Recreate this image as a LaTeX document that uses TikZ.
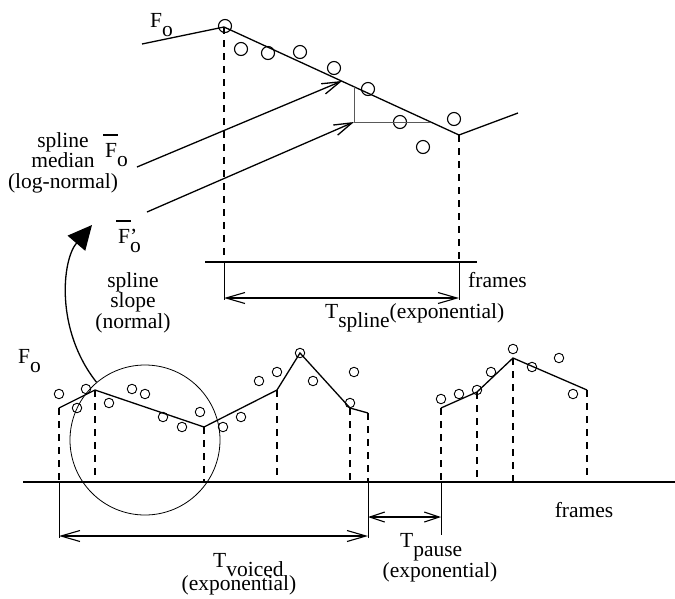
\documentclass[tikz,border=0pt]{standalone}
\usepackage{fontspec}
\setmainfont{Liberation Serif}
\usetikzlibrary{arrows.meta}
\newcommand{\lbl}{\fontsize{21.5}{20.5}\selectfont}
\newcommand{\sbs}[1]{\raisebox{-0.42em}{#1}}
\newcommand{\Fbar}{\makebox[0pt][l]{\hspace{-0.09em}\raisebox{0.98em}{\rule{0.7em}{0.07em}}}F}
\begin{document}
\begin{tikzpicture}[x=1pt,y=-1pt,
  txt/.style={font=\lbl, inner sep=0pt},
  curve/.style={line width=1.3pt},
  dsh/.style={line width=1.3pt, dash pattern=on 7pt off 6pt},
  thinl/.style={line width=0.8pt},
  bigpt/.style={circle, draw, line width=1.1pt, minimum size=13pt, inner sep=0pt},
  smallpt/.style={circle, draw, line width=0.9pt, minimum size=9.5pt, inner sep=0pt},
  barb/.style={-{Straight Barb[length=18pt,width=11pt]}, line width=1.3pt},
  dbl/.style={{Straight Barb[length=19pt,width=11pt]}-{Straight Barb[length=19pt,width=11pt]}, line width=1.1pt},
  dbls/.style={{Straight Barb[length=15pt,width=10pt]}-{Straight Barb[length=15pt,width=10pt]}, line width=1.1pt},
]
\useasboundingbox (0,0) rectangle (675,598);

% ---------- top plot ----------
\coordinate (a0) at (142,44);
\coordinate (a1) at (224,27);
\coordinate (a2) at (459,135);
\coordinate (a3) at (518,113);
\draw[curve] (a0) -- (a1) -- (a2) -- (a3);

\foreach \p/\q [count=\i] in {225/26, 241/49, 268/53, 300/52, 334/68, 368/89, 400/122, 423/147, 454/119}
  \node[bigpt] (tp\i) at (\p,\q) {};

\node[txt, anchor=base west] (fo1) at (150,27) {F\sbs{o}};

% slope triangle
\coordinate (g1) at (354,87);
\coordinate (g2) at (354,122);
\coordinate (g3) at (430,122);
\draw[gray!70!black, line width=0.9pt] (g1) -- (g2) -- (g3);

% median arrow
\coordinate (m0) at (137,167);
\coordinate (m1) at (342,81);
\draw[barb] (m0) -- (m1);
\coordinate (s0) at (147,212);
\draw[barb] (s0) -- (g2);

% labels left
\node[txt, align=center, anchor=base] (med) at (63,188) {spline\\median\\(log-normal)};
\node[txt, anchor=base west] (fb) at (105,157) {\Fbar\sbs{o}};
\node[txt, anchor=base west] (fbp) at (118,243) {\Fbar\makebox[0pt][l]{’}\sbs{o}};
\node[txt, align=center, anchor=base] (slp) at (133,328) {spline\\slope\\(normal)};

% axis and durations
\coordinate (ax0) at (205,262);
\coordinate (ax1) at (477,262);
\coordinate (d1) at (224,262);
\coordinate (d2) at (459,262);
\draw[dsh] (a1) -- (d1);
\draw[dsh] (a2) -- (d2);
\draw[line width=1.3pt] (ax0) -- (ax1);
\coordinate (e1) at (224,300);
\coordinate (e2) at (459,300);
\draw[thinl] (d1) -- (e1);
\draw[thinl] (d2) -- (e2);
\coordinate (t1) at (224,298);
\coordinate (t2) at (459,298);
\draw[dbl] (t1) -- (t2);
\node[txt, anchor=base west] (fr1) at (468,287) {frames};
\node[txt, anchor=base west] (tsp) at (325,318) {T\sbs{spline}(exponential)};

% ---------- bottom plot ----------
\node[txt, anchor=base west] (fo2) at (18,363) {F\sbs{o}};
\node[circle, draw, thinl, minimum size=150pt, inner sep=0pt] (zoomc) at (145,440) {};
\coordinate (ctip) at (92,225);
\draw[line width=1.3pt, -{Triangle[length=24pt,width=23pt]}] (zoomc.130) .. controls (55,330) and (62,260) .. (ctip);

\coordinate (b1) at (59,408);
\coordinate (b2) at (95,390);
\coordinate (b3) at (204,427);
\coordinate (b4) at (277,390);
\coordinate (b5) at (300,353);
\coordinate (b6) at (350,408);
\coordinate (b7) at (368,413);
\draw[curve] (b1) -- (b2) -- (b3) -- (b4) -- (b5) -- (b6) -- (b7);

\coordinate (c1) at (441,408);
\coordinate (c2) at (477,392);
\coordinate (c3) at (513,358);
\coordinate (c4) at (587,390);
\draw[curve] (c1) -- (c2) -- (c3) -- (c4);

\foreach \x in {59,95,204,277,350,368,441,477,513,587}
  \coordinate (ax\x) at (\x,482);
\draw[dsh] (b1) -- (ax59);
\draw[dsh] (b2) -- (ax95);
\draw[dsh] (b3) -- (ax204);
\draw[dsh] (b4) -- (ax277);
\draw[dsh] (b6) -- (ax350);
\draw[dsh] (b7) -- (ax368);
\draw[dsh] (c1) -- (ax441);
\draw[dsh] (c2) -- (ax477);
\draw[dsh] (c3) -- (ax513);
\draw[dsh] (c4) -- (ax587);

\coordinate (bx0) at (23,482);
\coordinate (bx1) at (675,482);
\draw[line width=1.3pt] (bx0) -- (bx1);

\foreach \p/\q [count=\i] in {59/394, 86/389, 77/408, 109/403, 132/389, 145/394, 163/417, 182/427, 200/412, 223/427, 241/417, 259/381, 277/372, 300/353, 313/381, 354/372, 350/403,
  441/399, 459/394, 477/390, 491/372, 513/349, 532/367, 559/358, 573/394}
  \node[smallpt] (bp\i) at (\p,\q) {};

\coordinate (v1) at (59,538);
\coordinate (v2) at (368,538);
\coordinate (v3) at (441,535);
\draw[thinl] (ax59) -- (v1);
\draw[thinl] (ax368) -- (v2);
\draw[thinl] (ax441) -- (v3);
\coordinate (tv1) at (59,536);
\coordinate (tv2) at (368,536);
\draw[dbl] (tv1) -- (tv2);
\coordinate (tp1) at (368,517);
\coordinate (tp2) at (441,517);
\draw[dbls] (tp1) -- (tp2);

\node[txt, anchor=base west] (tvo) at (213,567) {T\sbs{voiced}};
\node[txt, anchor=base] (tvoe) at (239,590) {(exponential)};
\node[txt, anchor=base west] (tpa) at (400,547) {T\sbs{pause}};
\node[txt, anchor=base] (tpae) at (440,577) {(exponential)};
\node[txt, anchor=base] (fr2) at (584,517) {frames};
\end{tikzpicture}
\end{document}
